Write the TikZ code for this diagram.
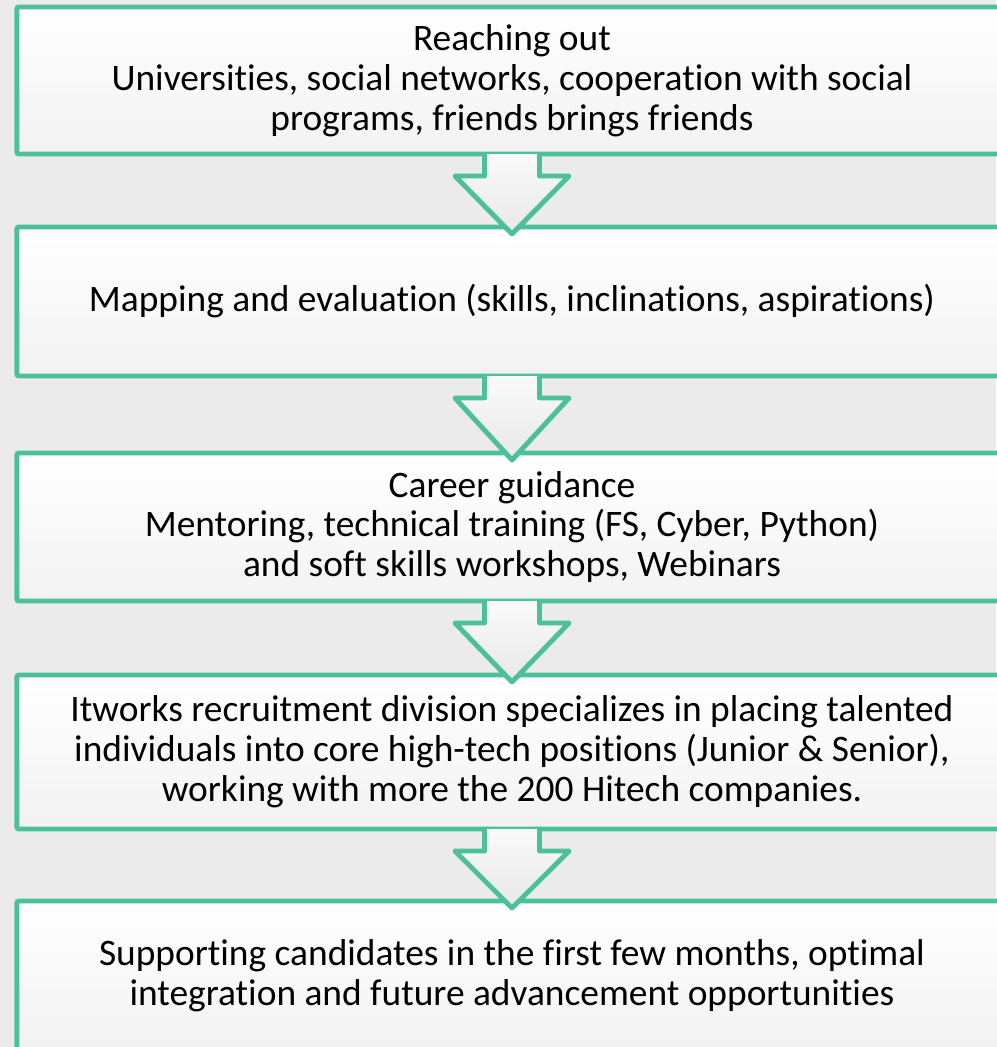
\documentclass[tikz,border=0pt]{standalone}
\usepackage{fontspec}
\setmainfont{Carlito}[Ligatures=NoCommon]
\usetikzlibrary{calc}
\definecolor{stepgreen}{RGB}{76,192,154}
\definecolor{bggray}{RGB}{235,235,235}

\begin{document}
\begin{tikzpicture}[x=0.025cm, y=-0.025cm,
  stage/.style={draw=stepgreen, line width=3.5pt, rounded corners=1.5pt, outer sep=0pt,
    top color=white, middle color=white, bottom color=black!5,
    minimum width=24.75cm, align=center, font=\fontsize{26.6}{28.3}\selectfont},
  flow/.style={draw=stepgreen, line width=3.5pt, line join=round,
    top color=black!2, bottom color=black!9}]
  \useasboundingbox [fill=bggray] (0,0) rectangle (996,1047);
  \node [stage, minimum height=3.675cm] (reach) at (512,80.5)
    {Reaching out\\Universities, social networks, cooperation with social\\programs, friends brings friends};
  \node [stage, minimum height=3.725cm] (map) at (512,301.5)
    {Mapping and evaluation (skills, inclinations, aspirations)};
  \node [stage, minimum height=3.7cm] (guide) at (512,527)
    {Career guidance\\Mentoring, technical training (FS, Cyber, Python)\\and soft skills workshops, Webinars};
  \node [stage, minimum height=3.85cm] (place) at (512,752)
    {Itworks recruitment division specializes in placing talented\\individuals into core high-tech positions (Junior \& Senior),\\working with more the 200 Hitech companies.};
  \node [stage, minimum height=3.725cm] (support) at (512,975.5)
    {Supporting candidates in the first few months, optimal\\integration and future advancement opportunities};
  \foreach \a/\b in {reach/map, map/guide, guide/place, place/support}
    \draw [flow] ($(\a.south)+(-27.5,0)$) -- ++(0,22) -- ++(-29.5,0) -- ($(\b.north)+(0,7)$)
      -- ($(\a.south)+(57,22)$) -- ++(-29.5,0) -- ++(0,-22);
\end{tikzpicture}
\end{document}
